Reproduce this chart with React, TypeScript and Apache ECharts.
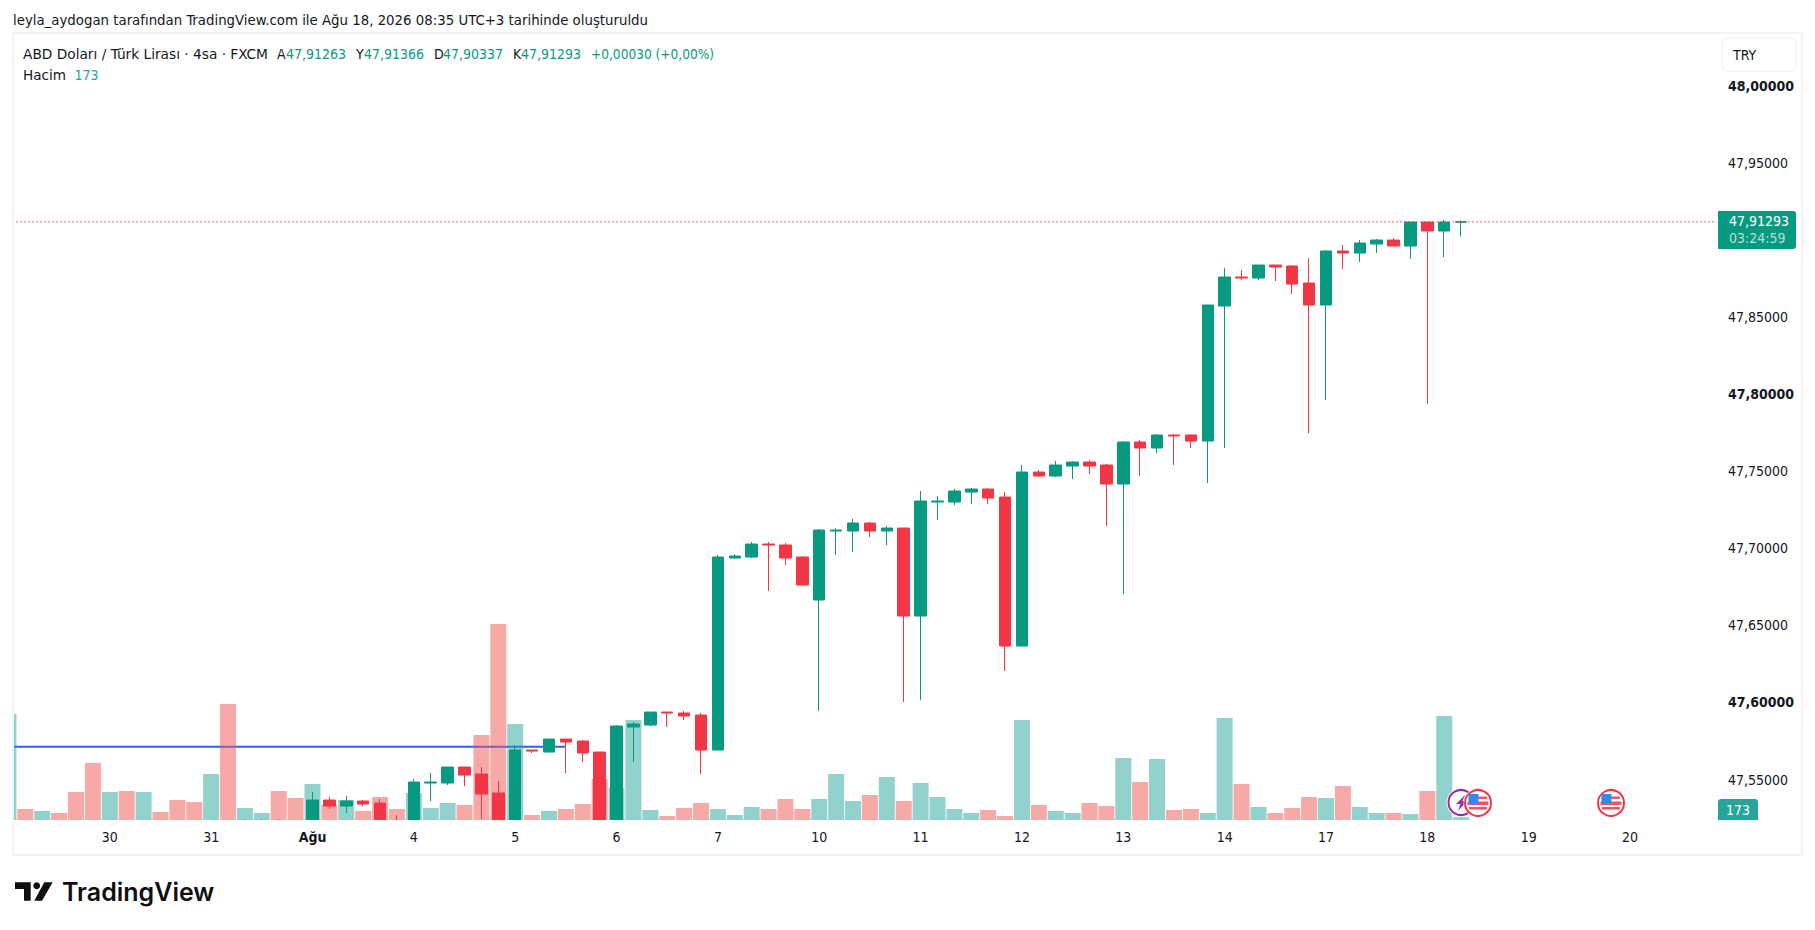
import React, { useEffect, useRef } from "react";
import * as echarts from "echarts";

const opens = [47.495,47.505,47.501,47.504,47.502,47.495,47.488,47.496,47.49,47.499,47.497,47.492,47.488,47.506,47.493,47.518,47.522,47.515,
47.508,47.53766,47.53376,47.53701,47.53571,47.52,47.512,47.54869,47.54869,47.55907,47.55453,47.5422,47.515,47.5701,47.5688,47.57724,47.57594,47.5688,47.515,47.58503,47.58633,47.59476,47.59411,47.59282,
47.5701,47.6947,47.69535,47.70378,47.70313,47.69535,47.66744,47.71222,47.71222,47.71741,47.71222,47.71416,47.65706,47.73104,47.73104,47.73753,47.73947,47.73428,
47.63759,47.75051,47.74791,47.7544,47.75699,47.75505,47.74272,47.76997,47.76608,47.77452,47.77452,47.77062,47.85823,47.87705,47.8764,47.88483,47.88418,47.87315,
47.85888,47.89392,47.89262,47.89846,47.90106,47.89716,47.91274,47.9069,47.91263];
const closes = [47.505,47.501,47.504,47.502,47.495,47.488,47.496,47.49,47.499,47.497,47.492,47.488,47.506,47.493,47.518,47.522,47.515,47.508,
47.53766,47.53376,47.53701,47.53506,47.515,47.512,47.54934,47.54934,47.55907,47.55388,47.54155,47.515,47.5701,47.56945,47.57724,47.57529,47.56816,47.515,47.58568,47.58697,47.59476,47.59411,47.59217,47.5701,
47.69535,47.69599,47.70378,47.70313,47.6947,47.67718,47.71287,47.71287,47.71741,47.71222,47.71416,47.65706,47.73169,47.73169,47.73818,47.73947,47.73363,47.63759,
47.75051,47.74791,47.75505,47.75699,47.7544,47.74272,47.76997,47.76608,47.77452,47.77387,47.77062,47.85888,47.87705,47.8764,47.88483,47.88354,47.8725,47.85888,
47.89392,47.89262,47.89911,47.90106,47.89716,47.91274,47.9069,47.91274,47.91293];
const lows = [47.493,47.499,47.5,47.5,47.493,47.485,47.487,47.488,47.489,47.495,47.491,47.486,47.487,47.49,47.492,47.515,47.513,47.506,
47.506,47.53182,47.52922,47.53376,47.512,47.509,47.51,47.53701,47.54739,47.54674,47.52533,47.512,47.512,47.56816,47.5688,47.55518,47.56232,47.512,47.512,47.56232,47.58568,47.58503,47.58957,47.55453,
47.5701,47.69405,47.6947,47.67328,47.69015,47.67718,47.59541,47.69664,47.69859,47.70832,47.70313,47.60125,47.60255,47.71936,47.72909,47.72974,47.72974,47.62137,
47.63759,47.74726,47.74726,47.74596,47.74921,47.71547,47.67134,47.74791,47.76283,47.75505,47.76608,47.74337,47.76608,47.8751,47.8751,47.87445,47.86601,47.77581,
47.79723,47.88224,47.88678,47.89262,47.89716,47.88873,47.79463,47.89002,47.90337];
const highs = [47.508,47.507,47.506,47.506,47.504,47.498,47.499,47.499,47.501,47.501,47.5,47.495,47.51,47.512,47.5253,47.5253,47.5253,47.519,
47.54285,47.5396,47.54025,47.53766,47.5383,47.52792,47.55128,47.55518,47.55907,47.55907,47.55907,47.54999,47.57335,47.5701,47.57724,47.57724,47.57659,47.5688,47.58633,47.58827,47.59476,47.59476,47.59541,47.59411,
47.69664,47.69729,47.70508,47.70508,47.70443,47.69599,47.71352,47.71416,47.72001,47.71806,47.71547,47.71416,47.73818,47.73493,47.73947,47.74012,47.74012,47.73753,
47.75505,47.7518,47.75764,47.75764,47.75829,47.7557,47.77062,47.77127,47.77516,47.77516,47.77516,47.85888,47.88289,47.88159,47.88483,47.88483,47.88483,47.88938,
47.89457,47.89781,47.90106,47.90171,47.90235,47.91274,47.91274,47.91404,47.91366];
const volumes = [6360,660,540,420,1680,3420,1680,1740,1680,480,1200,1080,2760,6960,720,420,1740,1320,
2160,900,1200,540,1380,660,1620,720,1020,900,5100,11760,5760,300,540,660,960,2460,1920,6000,600,240,720,1020,
660,300,780,660,1260,660,1260,2760,1140,1500,2580,1140,2220,1380,660,420,600,240,
6000,900,540,420,1020,840,3720,2280,3660,600,660,420,6120,2160,780,420,720,1380,
1320,2040,780,420,420,360,1740,6240,173];
const tickLabels = ["30","31","Ağu","4","5","6","7","10","11","12","13","14","17","18","19","20"];
const priceTicks = [47.55,47.6,47.65,47.7,47.75,47.8,47.85,47.95,48];
const boldPriceTicks = [47.6,47.8,48];
const lastPrice = 47.91293;
const levelPrice = 47.5722;
const levelBars = 34;
const barCount = 102;

const UP = "#089981";
const DOWN = "#F23645";
const FONT = "'DejaVu Sans Condensed', 'DejaVu Sans', sans-serif";
const LOGO_FONT = "Inter, 'Noto Sans', sans-serif";

const fmtPrice = (v: number) => v.toFixed(5).replace(".", ",");

function flag(cx: number, cy: number, z: number) {
  const r = 10.5;
  const band = (y: number, h: number, halfW: number) => ({
    type: "rect", z, shape: { x: cx - halfW, y: cy + y, width: halfW * 2, height: h }, style: { fill: "#F7525F" },
  });
  return [
    { type: "circle", z, shape: { cx, cy, r: 14.5 }, style: { fill: "#fff" } },
    { type: "circle", z, shape: { cx, cy, r: 13 }, style: { fill: "#fff", stroke: DOWN, lineWidth: 2 } },
    band(-1.5, 3.5, 10.5),
    band(4, 2.5, 9),
    band(-6.5, 2.5, 9),
    { type: "rect", z, shape: { x: cx - r + 1, y: cy - 9, width: 10, height: 10 }, style: { fill: "#2E8BF0" } },
  ];
}

function tx(text: string, x: number, y: number, fill: string, size = 14, weight: any = "normal", align = "left", font = FONT, scaleX = 1) {
  return {
    type: "text", z: 60, x, y, scaleX,
    style: { text, fill, font: `${weight} ${size}px ${font}`, textAlign: align, textVerticalAlign: "middle" },
  };
}

export default function App() {
  const ref = useRef<HTMLDivElement>(null);
  useEffect(() => {
    document.body.style.margin = "0";
    const chart = echarts.init(ref.current!, undefined, { renderer: "svg" });
    const categories = Array.from({ length: barCount }, (_, k) => `c${k}`);
    const labelAt = (k: number) => (k >= 6 && k % 6 === 0 ? tickLabels[k / 6 - 1] : undefined);
    const candle = opens.map((o, i) => [o, closes[i], lows[i], highs[i]]);
    const vol = volumes.map((v, i) => ({
      value: v,
      itemStyle: { color: closes[i] >= opens[i] ? "rgba(38,166,154,0.5)" : "rgba(239,83,80,0.5)" },
    }));
    const level = Array.from({ length: levelBars }, () => levelPrice);
    const last = Array.from({ length: barCount }, () => lastPrice);
    const dark = "#131722";

    chart.setOption({
      animation: false,
      backgroundColor: "#fff",
      grid: { left: -0.85, top: 33, width: 1723.8, height: 787, containLabel: false },
      xAxis: {
        type: "category",
        z: 10,
        data: categories,
        boundaryGap: true,
        axisLine: { show: false },
        axisTick: { show: false },
        axisLabel: {
          interval: (k: number) => labelAt(k) !== undefined,
          margin: 10,
          color: dark,
          fontFamily: FONT,
          fontSize: 14,
          formatter: (_: string, k: number) => {
            const t = labelAt(k) ?? "";
            return t === "Ağu" ? `{b|${t}}` : t;
          },
          rich: { b: { fontWeight: "bold", fontSize: 14, fontFamily: FONT, color: dark } },
        },
      },
      yAxis: [
        {
          type: "value",
          position: "right",
          z: 10,
          min: 47.5247,
          max: 48.0354,
          splitLine: { show: false },
          axisLine: { show: false },
          axisTick: { show: false },
          axisLabel: {
            customValues: priceTicks,
            margin: 5,
            color: dark,
            fontFamily: FONT,
            fontSize: 14,
            padding: [0, 0, 3, 0],
            formatter: (v: number) =>
              boldPriceTicks.some((b) => Math.abs(b - v) < 1e-6) ? `{b|${fmtPrice(v)}}` : fmtPrice(v),
            rich: { b: { fontWeight: "bold", fontSize: 14, fontFamily: FONT, color: dark } },
          },
        },
        { type: "value", min: 0, max: 47220, show: false },
      ],
      series: [
        {
          type: "line", z: 1, data: level, showSymbol: false, silent: true,
          lineStyle: { color: "#2962FF", width: 2 },
        },
        {
          type: "bar", z: 2, yAxisIndex: 1, data: vol, barWidth: 16, silent: true,
        },
        {
          type: "candlestick", z: 3, data: candle, barWidth: 12, silent: true,
          itemStyle: { color: UP, color0: DOWN, borderColor: UP, borderColor0: DOWN, borderWidth: 1 },
        },
        {
          type: "line", z: 4, data: last, showSymbol: false, silent: true,
          lineStyle: { color: DOWN, type: [1, 3], width: 1.6 },
        },
      ],
      graphic: {
        elements: [
          { type: "rect", z: 5, shape: { x: 0, y: 820, width: 1815, height: 110 }, style: { fill: "#fff" } },
          { type: "rect", z: 50, shape: { x: 0, y: 0, width: 13, height: 930 }, style: { fill: "#fff" } },
          { type: "rect", z: 5, shape: { x: 1714, y: 33, width: 12, height: 787 }, style: { fill: "#fff" } },
          { type: "rect", z: 51, shape: { x: 13, y: 33, width: 1789, height: 822 }, style: { fill: "none", stroke: "#F3F3F3", lineWidth: 2 } },
          tx("leyla_aydogan tarafından TradingView.com ile Ağu 18, 2026 08:35 UTC+3 tarihinde oluşturuldu", 13, 20, dark, 14, "normal", "left", FONT, 1.058),
          tx("ABD Doları / Türk Lirası · 4sa · FXCM", 23, 54, dark, 14, "normal", "left", FONT, 1.09),
          tx("A", 277, 54, dark), tx("47,91263", 286, 54, UP),
          tx("Y", 356, 54, dark), tx("47,91366", 364, 54, UP),
          tx("D", 434, 54, dark), tx("47,90337", 443, 54, UP),
          tx("K", 513, 54, dark), tx("47,91293", 521, 54, UP),
          tx("+0,00030 (+0,00%)", 591, 54, UP, 14, "normal", "left", FONT, 0.97),
          tx("Hacim", 23, 75, dark, 14, "normal", "left", FONT, 1.08),
          tx("173", 74.5, 75, "#26A69A"),
          { type: "rect", z: 52, shape: { x: 1722, y: 38, width: 74, height: 33, r: 6 }, style: { fill: "#fff", stroke: "#F0F3FA", lineWidth: 1.5 } },
          tx("TRY", 1733, 55, dark),
          { type: "rect", z: 52, shape: { x: 1718, y: 211, width: 78, height: 38, r: [0, 3, 3, 0] }, style: { fill: UP } },
          tx("47,91293", 1729, 221, "#fff"),
          tx("03:24:59", 1729, 238, "rgba(255,255,255,0.7)"),
          { type: "rect", z: 52, shape: { x: 1718, y: 799, width: 40, height: 21, r: [3, 3, 0, 0] }, style: { fill: "#26A69A" } },
          tx("173", 1738, 810, "#fff", 14, "normal", "center"),
          { type: "circle", z: 40, shape: { cx: 1461, cy: 802.5, r: 14.5 }, style: { fill: "#fff" } },
          { type: "circle", z: 40, shape: { cx: 1461, cy: 802.5, r: 12.5 }, style: { fill: "#fff", stroke: "#9C27B0", lineWidth: 2 } },
          { type: "polygon", z: 40, shape: { points: [[1465, 795], [1456, 804], [1460.5, 804], [1458, 811], [1467, 801], [1462.5, 801]] }, style: { fill: "#9C27B0" } },
          ...flag(1478, 803, 41),
          ...flag(1611, 803, 41),
          { type: "polygon", z: 60, shape: { points: [[15, 882.3], [30.7, 882.3], [30.7, 900.7], [24, 900.7], [24, 889], [15, 889]] }, style: { fill: "#0F0F0F" } },
          { type: "circle", z: 60, shape: { cx: 36.7, cy: 885.7, r: 3.4 }, style: { fill: "#0F0F0F" } },
          { type: "polygon", z: 60, shape: { points: [[44.3, 882.3], [52.7, 882.3], [42, 900.7], [34.3, 900.7]] }, style: { fill: "#0F0F0F" } },
          tx("TradingView", 62, 892, "#0F0F0F", 25, 600, "left", LOGO_FONT),
        ],
      },
    });
    return () => chart.dispose();
  }, []);
  return <div ref={ref} style={{ position: "fixed", left: 0, top: 0, width: 1815, height: 930 }} />;
}
